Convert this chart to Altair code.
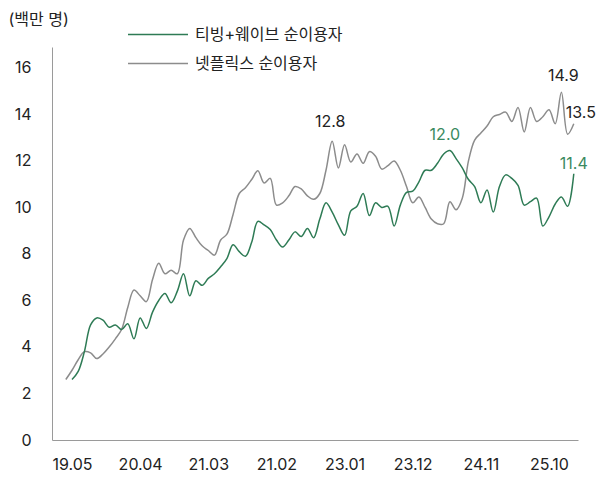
import altair as alt
import pandas as pd

# ---- data ----
tick_labels = ["19.05", "20.04", "21.03", "21.02", "23.01", "23.12", "24.11", "25.10"]
tick_months = [0, 11, 22, 33, 44, 55, 66, 77]   # month offset from 19.05

series_names = ["티빙+웨이브 순이용자", "넷플릭스 순이용자"]
series_colors = ["#2e7b55", "#8c8c8c"]

# Netflix (gray): monthly, starting one month before 19.05 (offset -1)
gray_start = -1
gray_values = [
    2.6, 3.0, 3.45, 3.8, 3.75, 3.5, 3.7, 4.0, 4.35, 4.75,
    5.7, 6.45, 6.2, 5.95, 6.9, 7.6, 7.15, 7.3, 7.15, 8.6,
    9.1, 8.7, 8.35, 8.15, 7.95, 8.6, 8.85, 9.7, 10.6, 10.85,
    11.2, 11.58, 11.05, 11.25, 10.1, 10.2, 10.5, 10.9, 10.8, 10.5,
    10.35, 10.6, 11.6, 12.85, 11.7, 12.7, 11.95, 12.3, 11.9, 12.4,
    12.2, 11.65, 11.8, 12.0, 11.6, 10.9, 10.2, 10.45, 10.0, 9.5,
    9.3, 9.3, 10.25, 9.9, 10.4, 12.0, 12.9, 13.2, 13.5, 13.9,
    14.0, 14.1, 13.7, 14.3, 13.25, 14.3, 13.7, 13.9, 14.2, 13.6,
    14.95, 13.15, 13.6,
]

# Tving+Wavve (green): monthly, starting at 19.05 (offset 0)
green_start = 0
green_values = [
    2.6, 2.95, 3.8, 4.95, 5.25, 5.15, 4.85, 4.95, 4.75, 5.0,
    4.35, 5.25, 4.8, 5.5, 6.0, 6.3, 5.9, 6.4, 7.15, 6.2,
    6.85, 6.65, 6.95, 7.15, 7.45, 7.8, 8.4, 8.1, 7.9, 8.5,
    9.4, 9.25, 9.05, 8.6, 8.3, 8.6, 8.95, 8.75, 9.1, 8.7,
    9.5, 10.2, 9.8, 9.25, 8.8, 9.85, 10.05, 10.6, 9.65, 10.2,
    10.0, 10.05, 9.2, 10.1, 10.65, 10.7, 11.1, 11.6, 11.6, 11.9,
    12.3, 12.45, 12.1, 11.7, 11.2, 10.9, 10.2, 10.75, 9.8, 10.9,
    11.4, 11.25, 10.95, 10.1, 10.25, 10.4, 9.2, 9.6, 10.15, 10.45,
    10.05, 11.45,
]

# annotations: (series index, month offset, text, dx, dy, align)
annotations = [
    (1, 42, "12.8", -2, -19, "center"),
    (0, 61, "12.0", -5, -15, "center"),
    (1, 79, "14.9", 2, -16, "center"),
    (1, 81, "13.5", -8, -11, "left"),
    (0, 81, "11.4", 0, -10, "center"),
]

FONT = "Inter, Noto Sans CJK KR, Noto Sans"
TEXT = "#222222"
AXIS = "#9a9a9a"

rows = []
for m, v in zip(range(gray_start, gray_start + len(gray_values)), gray_values):
    rows.append({"month": m, "value": v, "series": series_names[1]})
for m, v in zip(range(green_start, green_start + len(green_values)), green_values):
    rows.append({"month": m, "value": v, "series": series_names[0]})
df = pd.DataFrame(rows)

label_array = "[" + ",".join("'%s'" % t for t in tick_labels) + "]"

x_scale = alt.Scale(domain=[-3.23, 81.68], nice=False, zero=False)
y_scale = alt.Scale(domain=[0, 16.9], nice=False)

lines = alt.Chart(df).mark_line(
    interpolate="catmull-rom", strokeWidth=1.5
).encode(
    x=alt.X("month:Q", scale=x_scale, axis=alt.Axis(
        values=tick_months, labelExpr=label_array + "[round(datum.value/11)]",
        title=None, ticks=False, grid=False, domainColor=AXIS, domainWidth=1,
        labelFontSize=16, labelColor=TEXT, labelPadding=16, labelFont=FONT,
        labelFlush=False)),
    y=alt.Y("value:Q", scale=y_scale, axis=alt.Axis(
        values=list(range(0, 17, 2)), title="(백만 명)", titleAngle=0,
        titleAlign="left", titleBaseline="middle", titleX=-44, titleY=-28,
        titleFontSize=16, titleFontWeight="normal", titleColor=TEXT, titleFont=FONT,
        ticks=False, grid=False, domainColor=AXIS, domainWidth=1,
        labelFontSize=16, labelColor=TEXT, labelPadding=21, labelFont=FONT)),
    color=alt.Color("series:N", scale=alt.Scale(domain=series_names, range=series_colors),
                    legend=None),
)

layers = [lines]

series_lists = [(green_start, green_values), (gray_start, gray_values)]
label_colors = ["#3a8a60", TEXT]
for s, m, txt, dx, dy, align in annotations:
    start, vals = series_lists[s]
    adf = pd.DataFrame([{"month": m, "value": vals[m - start], "label": txt}])
    layers.append(
        alt.Chart(adf).mark_text(
            dx=dx, dy=dy, align=align, baseline="middle", fontSize=16,
            font=FONT, color=label_colors[s]
        ).encode(x=alt.X("month:Q", scale=x_scale), y=alt.Y("value:Q", scale=y_scale),
                 text="label:N")
    )

# manual legend at top
legend_y = [-12.5, 16.5]
for i, name in enumerate(series_names):
    layers.append(
        alt.Chart(pd.DataFrame([{"name": name}])).mark_rule(
            color=series_colors[i], strokeWidth=1.5
        ).encode(x=alt.value(76), x2=alt.value(136), y=alt.value(legend_y[i]))
    )
    layers.append(
        alt.Chart(pd.DataFrame([{"name": name}])).mark_text(
            align="left", baseline="middle", fontSize=16, font=FONT, color=TEXT
        ).encode(x=alt.value(143), y=alt.value(legend_y[i]), text="name:N")
    )

chart = alt.layer(*layers).properties(
    width=526, height=393,
    padding={"left": 44, "top": 39, "right": 20, "bottom": 34},
    autosize="none",
).configure_view(stroke=None)

chart.save("out.html", embed_options={"renderer": "svg", "actions": False})
